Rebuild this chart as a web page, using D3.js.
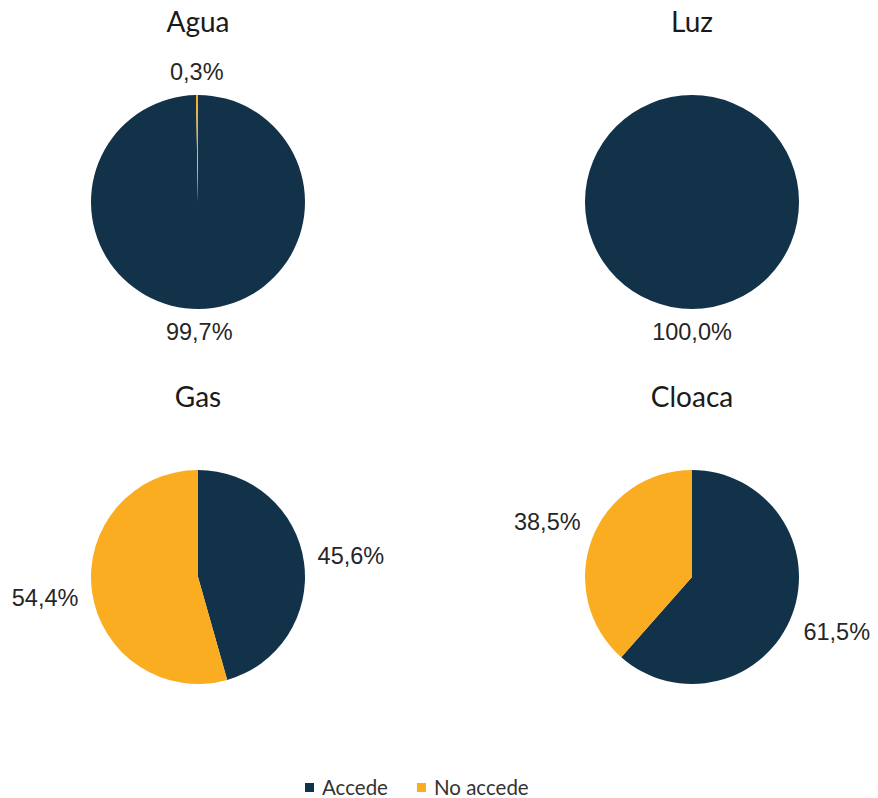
<!DOCTYPE html>
<html lang="es">
<head>
<meta charset="UTF-8">
<title>Acceso a servicios</title>
<script src="https://d3js.org/d3.v7.min.js"></script>
<style>
  body { margin: 0; background: #fff; }
  .title { font-family: Lato, "Open Sans", sans-serif; font-size: 28px; fill: #1a1a1a; text-anchor: middle; }
  .lbl { font-family: "Liberation Sans", Arial, sans-serif; font-size: 23.5px; fill: #262626; }
  .legend text { font-family: Lato, "Open Sans", sans-serif; font-size: 20.5px; fill: #333; }
</style>
</head>
<body>
<svg width="878" height="798"></svg>
<script>
    // data
    const servicios = ["Agua", "Luz", "Gas", "Cloaca"];
    const categorias = ["Accede", "No accede"];
    const accede = [99.7, 100.0, 45.6, 61.5];
    const noAccede = [0.3, 0.0, 54.4, 38.5];

    const svg = d3.select("svg");
    const color = d3.scaleOrdinal().domain(categorias).range(["#12324a", "#fbad21"]);

    const radius = 107;
    const gap = 13;
    const cols = d3.scalePoint().domain([0, 1]).range([198, 692]);
    const rows = d3.scalePoint().domain([0, 1]).range([202, 577]);

    const pie = d3.pie().sort(null).value(d => d.value);
    const arc = d3.arc().innerRadius(0).outerRadius(radius);

    servicios.forEach((name, i) => {
        const cx = cols(i % 2), cy = rows(Math.floor(i / 2));
        const data = categorias.map((c, k) => ({cat: c, value: k === 0 ? accede[i] : noAccede[i]}));
        const g = svg.append("g").attr("transform", `translate(${cx},${cy})`);

        svg.append("text")
            .attr("class", "title")
            .attr("x", cx)
            .attr("y", cy - 170)
            .text(name);

        const arcs = pie(data).filter(a => a.data.value > 0);
        g.selectAll("path")
            .data(arcs)
            .join("path")
            .attr("d", arc)
            .attr("fill", d => color(d.data.cat));

        // labels just outside the slice, pushed out by the text box
        arcs.forEach(a => {
            const mid = (a.startAngle + a.endAngle) / 2;
            const s = Math.sin(mid), c = -Math.cos(mid);
            const t = g.append("text")
                .attr("class", "lbl")
                .attr("text-anchor", "middle")
                .attr("dominant-baseline", "central")
                .text(a.data.value.toFixed(1).replace(".", ",") + "%");
            const w = t.node().getComputedTextLength();
            const h = 20;
            const d = radius + gap + Math.abs(s) * w / 2 + Math.abs(c) * h / 2;
            t.attr("x", s * d).attr("y", c * d);
        });
    });

    // legend
    const legend = svg.append("g").attr("class", "legend").attr("transform", "translate(305,788)");
    let lx = 0;
    categorias.forEach(c => {
        const item = legend.append("g").attr("transform", `translate(${lx},0)`);
        item.append("rect").attr("x", 0).attr("y", -5).attr("width", 9).attr("height", 9).attr("fill", color(c));
        const t = item.append("text").attr("x", 17).attr("y", 7).text(c);
        lx += 17 + t.node().getComputedTextLength() + 29;
    });
</script>
</body>
</html>
